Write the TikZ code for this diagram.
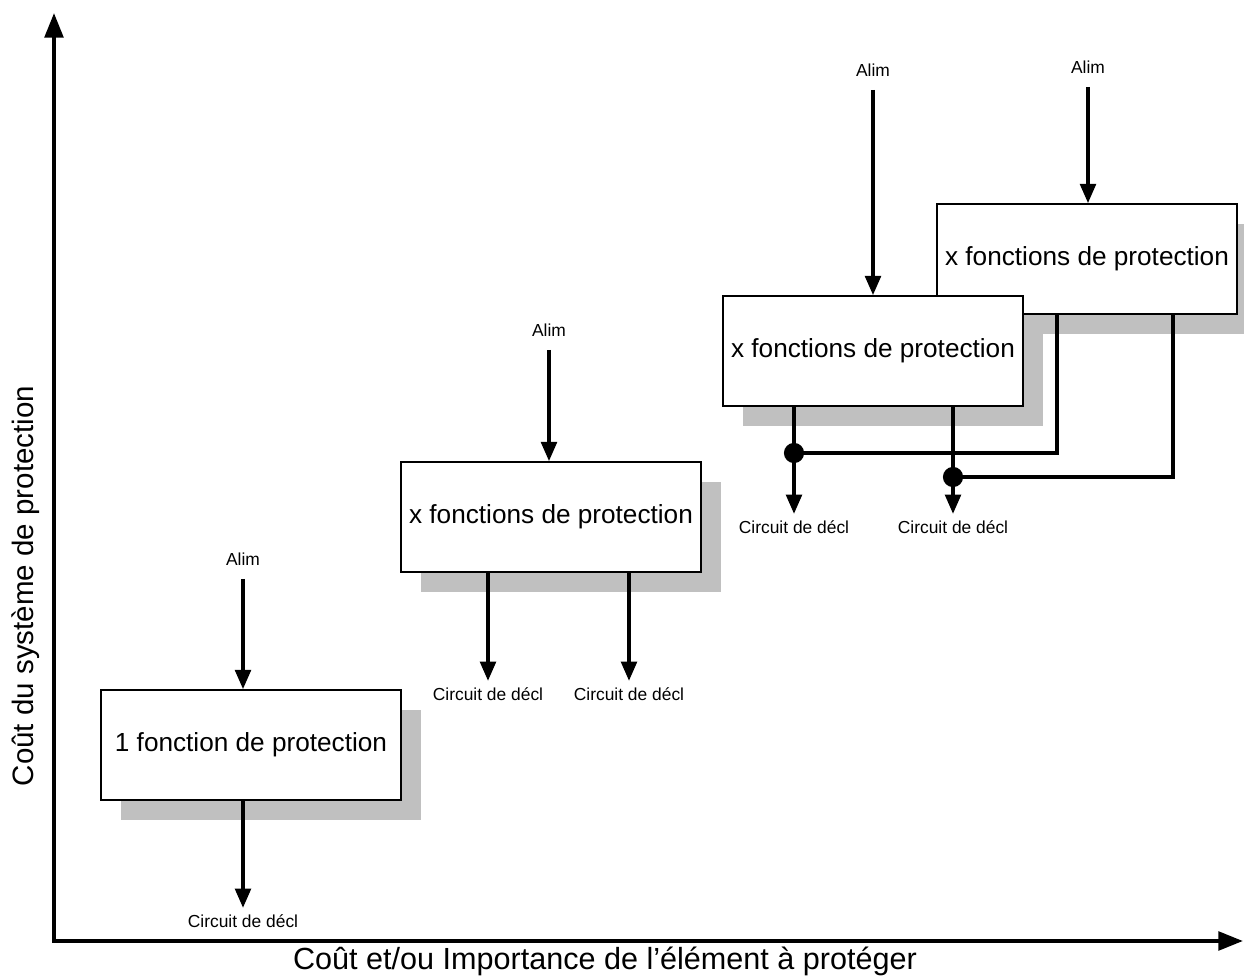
\documentclass[tikz,border=0pt]{standalone}
\usepackage{fontspec}
\setmainfont{Liberation Sans}
\usetikzlibrary{arrows.meta,shadows}
\definecolor{shadowgray}{RGB}{192,192,192}
\tikzset{
	fbox/.style={
		draw, line width=1pt, fill=white, inner sep=0pt,
		minimum width=6cm, minimum height=2.2cm,
		font={\fontsize{14.9}{18}\selectfont},
		drop shadow={shadow xshift=0.4cm, shadow yshift=-0.4cm, fill=shadowgray, opacity=1}
	},
	tag/.style={inner sep=0pt, font={\fontsize{9.9}{12}\selectfont}},
	alim/.style={tag, outer sep=7.7pt},
	decl/.style={tag, outer sep=3.8pt},
	axlabel/.style={inner sep=0pt, font={\fontsize{16.8}{20}\selectfont}},
	feed/.style={line width=1.9pt, -{Triangle[length=11pt,width=9pt]}},
	wire/.style={line width=1.9pt},
	dotJ/.style={fill, circle, inner sep=0pt, minimum size=11.5pt},
	axis/.style={line width=2.3pt, line join=miter,
		{Triangle[length=14pt,width=10.5pt]}-{Triangle[length=14pt,width=10.5pt]}},
}

\begin{document}
\begin{tikzpicture}[x=0.02cm, y=-0.02cm]
\useasboundingbox (0,0) rectangle (1244,979);
% axes
\coordinate (ytop) at (54,13);
\coordinate (orig) at (54,941);
\coordinate (xend) at (1243,941);
\draw[axis] (ytop) -- (orig) -- (xend);
\node[axlabel, rotate=90] (ylab) at (26,586) {Coût du système de protection};
\node[axlabel, font={\fontsize{17.4}{20}\selectfont}] (xlab) at (605,961) {Coût et/ou Importance de l’élément à protéger};

% boxes, back to front
\node[fbox] (boxD) at (1087,259) {x fonctions de protection};
\node[fbox] (boxC) at (873,351) {x fonctions de protection};
\node[fbox] (boxB) at (551,517) {x fonctions de protection};
\node[fbox] (boxA) at (251,745) {1 fonction de protection};

% inputs
\node[alim] (alimA) at (243,559) {Alim};
\node[alim] (alimB) at (549,330) {Alim};
\node[alim] (alimC) at (873,70) {Alim};
\node[alim] (alimD) at (1088,67) {Alim};
\foreach \n in {A,B,C,D}
	\draw[feed] (alim\n) -- (alim\n |- box\n.north);

% outputs
\node[decl] (declA) at (243,921) {Circuit de décl};
\node[decl] (declB1) at (488,694) {Circuit de décl};
\node[decl] (declB2) at (629,694) {Circuit de décl};
\node[decl] (declC1) at (794,527) {Circuit de décl};
\node[decl] (declC2) at (953,527) {Circuit de décl};
\foreach \d/\b in {A/A, B1/B, B2/B, C1/C, C2/C}
	\draw[feed] (box\b.south -| decl\d) -- (decl\d);

% links from the back box
\coordinate (tapD1) at (1057,453);
\coordinate (tapD2) at (1173,477);
\node[dotJ] (dotC1) at (794,453) {};
\node[dotJ] (dotC2) at (953,477) {};
\draw[wire] (boxD.south -| tapD1) -- (tapD1) -- (dotC1.center);
\draw[wire] (boxD.south -| tapD2) -- (tapD2) -- (dotC2.center);
\end{tikzpicture}
\end{document}
